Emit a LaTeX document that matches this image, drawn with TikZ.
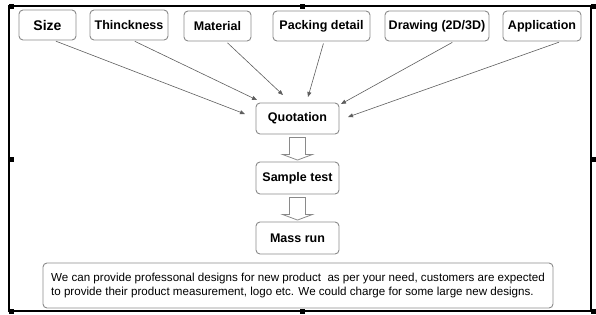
\documentclass[tikz,border=0pt]{standalone}
\usepackage{fontspec}
\setmainfont{Liberation Sans}
\usetikzlibrary{arrows.meta, calc}
\definecolor{qGray}{HTML}{8A8A8A}
\definecolor{qLine}{HTML}{5E5E5E}

\begin{document}
\begin{tikzpicture}[x=1pt, y=-1pt,
  every node/.style={rounded corners=4pt, draw=qGray, line width=0.9pt, align=center,
                     font=\fontsize{12.5}{14}\selectfont\bfseries,
                     inner sep=2pt, minimum height=30pt},
  feed/.style={draw=qLine, line width=0.6pt, shorten <=2pt,
               -{Triangle[length=5pt, width=4pt]}},
  hollow/.style={draw=qGray, fill=white, line width=0.8pt, line join=miter}]
  \useasboundingbox (0,0) rectangle (596,314);
  % frame and handles
  \draw[line width=1.4pt] (9,6) rectangle (591,311);
  \foreach \hx/\hy in {11.5/6.5, 302.5/6.5, 593.5/6.5, 11.5/159.5, 593.5/159.5,
                       11.5/311.5, 302.5/311.5, 593.5/311.5}
    \fill (\hx-2.5,\hy-2.5) rectangle (\hx+2.5,\hy+2.5);
  % inputs
  \node[minimum width=57pt, font=\fontsize{14}{16}\selectfont\bfseries] (size) at (47.5,25) {Size};
  \node[minimum width=78pt] (thick) at (129,25) {Thinckness};
  \node[minimum width=67pt] (material) at (217.5,26) {Material};
  \node[minimum width=97pt] (packing) at (321.5,26) {Packing detail};
  \node[minimum width=104pt] (drawing) at (437,26) {Drawing (2D/3D)};
  \node[minimum width=78pt] (application) at (542,26) {Application};
  % flow
  \node[minimum width=83pt, minimum height=31pt] (quote) at (297.5,118.5) {Quotation};
  \node[minimum width=83pt, minimum height=32pt] (sample) at (297.5,178) {Sample test};
  \node[minimum width=83pt, minimum height=32pt] (mass) at (297.5,238) {Mass run};
  \node[minimum width=510pt, minimum height=45pt, align=left,
        font=\fontsize{11.6}{13.5}\selectfont] (note) at (298,285.5)
    {We can provide professonal designs for new product\ \ as per your need, customers are expected\\
     to provide their product measurement, logo etc. We could charge for some large new designs.};
  % arrow ends
  \coordinate (inSize) at (245,114);
  \coordinate (inThick) at (257,100);
  \coordinate (inMaterial) at (283,95);
  \coordinate (inPacking) at (308,97);
  \coordinate (inDrawing) at (341,104);
  \coordinate (inApplication) at (348,117);
  \draw[feed] ([xshift=6.5]size.south) -- (inSize);
  \draw[feed] ([xshift=4]thick.south) -- (inThick);
  \draw[feed] ([xshift=8.5]material.south) -- (inMaterial);
  \draw[feed] ([xshift=2.5]packing.south) -- (inPacking);
  \draw[feed] ([xshift=17]drawing.south) -- (inDrawing);
  \draw[feed] ([xshift=19]application.south) -- (inApplication);
  \foreach \a/\b in {quote/sample, sample/mass}
    \draw[hollow] ($(\a.south)+(-8,3)$) -- ($(\a.south)+(8,3)$) -- ($(\a.south)+(8,20)$)
      -- ($(\a.south)+(15,20)$) -- ($(\b.north)+(0,-1.5)$) -- ($(\a.south)+(-15,20)$)
      -- ($(\a.south)+(-8,20)$) -- cycle;
\end{tikzpicture}
\end{document}
